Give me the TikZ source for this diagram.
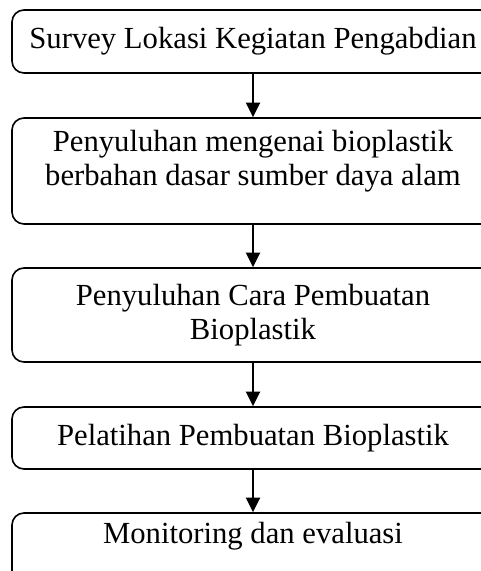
\documentclass[tikz,border=0pt]{standalone}
\usepackage{fontspec}
\setmainfont{Liberation Serif}
\usetikzlibrary{arrows.meta}

\tikzset{
  stepbox/.style={draw, line width=1.2pt, rounded corners=9pt, minimum width=361.5pt,
    align=center, font=\fontsize{23}{25.5}\selectfont},
  flow/.style={line width=1.9pt, -{Triangle[width=10.5pt,length=11pt]}}
}

\begin{document}
\begin{tikzpicture}[x=0.75pt, y=-0.75pt]
            % page size (pixels of the scan)
            \useasboundingbox (0,0) rectangle (480,571);

            % the five steps
            \node[stepbox, minimum height=47.25pt] (survey) at (253,41.5) {Survey Lokasi Kegiatan Pengabdian};
            \node[stepbox, minimum height=79.5pt] (penyuluhan) at (253,171)
                {Penyuluhan mengenai bioplastik\\berbahan dasar sumber daya alam\\[-6pt]\mbox{}};
            \node[stepbox, minimum height=70.5pt] (cara) at (253,315) {Penyuluhan Cara Pembuatan\\Bioplastik};
            \node[stepbox, minimum height=46.5pt] (pelatihan) at (253,438) {Pelatihan Pembuatan Bioplastik};
            \node[stepbox, minimum height=54pt] (monev) at (253,549)
                {Monitoring dan evaluasi\\[-2pt]\mbox{}};

            % arrows between the steps
            \draw[flow] (survey) -- (penyuluhan);
            \draw[flow] (penyuluhan) -- (cara);
            \draw[flow] (cara) -- (pelatihan);
            \draw[flow] (pelatihan) -- (monev);

        \end{tikzpicture}
\end{document}
